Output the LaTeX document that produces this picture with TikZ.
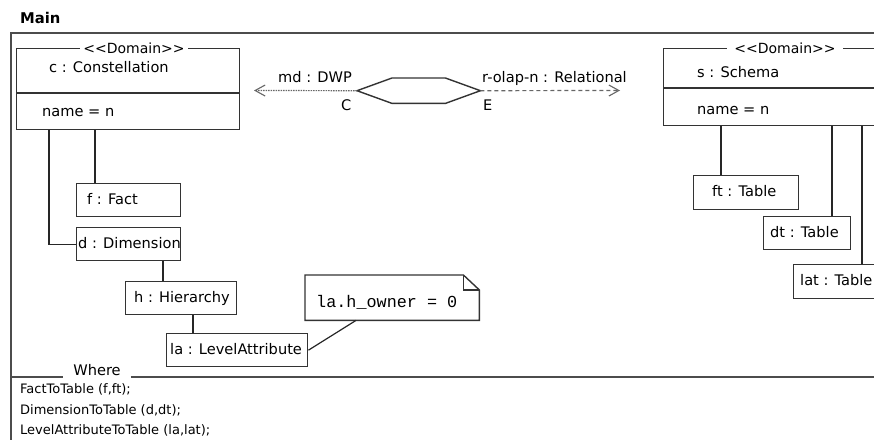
\documentclass[tikz,border=0pt]{standalone}
\usepackage{fontspec}
\setmainfont{DejaVu Sans}
\newfontfamily\codefont{Liberation Mono}
\usetikzlibrary{arrows.meta}

\begin{document}
\begin{tikzpicture}[x=1pt,y=-1pt,
  frameline/.style={draw=black!70, line width=1.5pt},
  boxline/.style={draw=black!80, line width=1.4pt},
  rect/.style={inner sep=0pt, anchor=north west},
  umlbox/.style={rect, boxline},
  conn/.style={draw=black!85, line width=1.2pt},
  lbl/.style={font=\fontsize{14.6}{17}\selectfont, anchor=west, inner sep=0pt,
              text height=1.5ex, text depth=.3ex, yshift=-1.5pt},
  stereo/.style={font=\fontsize{14}{16}\selectfont, fill=white, inner ysep=1pt},
  small/.style={font=\fontsize{13}{15}\selectfont, anchor=west, inner sep=0pt,
              text height=1.5ex, text depth=.3ex},
  tip/.style={-{Straight Barb[length=10pt,width=11pt,line width=1.1pt]}},
  flow/.style={draw=black!60, line width=1.2pt}
]
\useasboundingbox (0,0) rectangle (874,439);
\clip (0,0) rectangle (874,439);

% title and outer frame
\node[font=\bfseries\fontsize{14.8}{17}\selectfont, anchor=west, inner sep=0pt] (title) at (20,18) {Main};
\node[rect, frameline, minimum width=900pt, minimum height=460pt] (mainframe) at (10,32) {};

% left domain object: c : Constellation
\node[umlbox, minimum width=223pt, minimum height=81pt] (con) at (16,48) {};
\draw[boxline] ([yshift=-45pt]con.north west) -- ([yshift=-45pt]con.north east);
\node[stereo, inner xsep=3.5pt] (constereo) at ([xshift=118pt]con.north west) {<{}<Domain>{}>};
\node[lbl] (contitle) at (49,68) {c : Constellation};
\node[lbl] (conattr) at (42,112) {name = n};

% left children
\node[umlbox, minimum width=104pt, minimum height=33pt] (f) at (76,183) {};
\node[lbl] (ftext) at (87,199.5) {f : Fact};
\node[umlbox, minimum width=104pt, minimum height=33pt] (d) at (76,227) {};
\node[lbl] (dtext) at (78,243.5) {d : Dimension};
\node[umlbox, minimum width=111pt, minimum height=33pt] (h) at (125,281) {};
\node[lbl] (htext) at (134,297.5) {h : Hierarchy};
\node[umlbox, minimum width=141pt, minimum height=33pt] (la) at (166,333) {};
\node[lbl] (latext) at (170,349.5) {la : LevelAttribute};

\draw[conn] ([xshift=33pt]con.south west) |- (d.west);
\draw[conn] ([xshift=79pt]con.south west) -- ([xshift=79pt]con.south west |- f.north);
\draw[conn] ([xshift=87pt]d.south west) -- ([xshift=87pt]d.south west |- h.north);
\draw[conn] ([xshift=68pt]h.south west) -- ([xshift=68pt]h.south west |- la.north);

% constraint note
\node[rect, minimum width=174pt, minimum height=45pt] (note) at (305,275) {};
\draw[boxline, fill=white] (note.south west) -- (note.north west) -- ([xshift=-16pt]note.north east)
  -- ([yshift=-15pt]note.north east) -- (note.south east) -- cycle;
\draw[boxline, line width=1.1pt] ([xshift=-16pt]note.north east) |- ([yshift=-15pt]note.north east);
\node[anchor=west, inner sep=0pt, font=\codefont\fontsize{16.8}{18}\selectfont] (notetext) at (316,302) {la.h\_owner = 0};
\draw[conn] (la.east) -- ([xshift=51pt]note.south west);

% relation hexagon and its two domains
\node[rect, minimum width=123pt, minimum height=25pt] (rel) at (357,78) {};
\draw[boxline, line width=1.4pt] (rel.west) -- ([xshift=35pt]rel.north west) -- ([xshift=-35pt]rel.north east)
  -- (rel.east) -- ([xshift=-35pt]rel.south east) -- ([xshift=35pt]rel.south west) -- cycle;
\coordinate (lefttip) at (254,90.5);
\coordinate (righttip) at (620,90.5);
\draw[flow, tip, dash pattern=on 1.3pt off 1.2pt] (rel.west) -- (lefttip);
\draw[flow, tip, dash pattern=on 4pt off 3pt] (rel.east) -- (righttip);
\node[lbl] (mdlabel) at (278,78) {md : DWP};
\node[lbl] (clabel) at (341,106) {C};
\node[lbl] (rlabel) at (482,78) {r-olap-n : Relational};
\node[lbl] (elabel) at (483,106) {E};

% right domain object: s : Schema
\node[umlbox, minimum width=230pt, minimum height=77pt] (sch) at (663,48) {};
\draw[boxline] ([yshift=-40pt]sch.north west) -- ([yshift=-40pt]sch.north east);
\node[stereo, inner xsep=7pt] (schstereo) at ([xshift=122pt]sch.north west) {<{}<Domain>{}>};
\node[lbl] (schtitle) at (697,73) {s : Schema};
\node[lbl] (schattr) at (697,110) {name = n};

% right children
\node[umlbox, minimum width=105pt, minimum height=34pt] (ft) at (693,175) {};
\node[lbl] (fttext) at (712,192) {ft : Table};
\node[umlbox, minimum width=87pt, minimum height=33pt] (dt) at (763,216) {};
\node[lbl] (dttext) at (770,232.5) {dt : Table};
\node[umlbox, minimum width=100pt, minimum height=34pt] (lat) at (793,264) {};
\node[lbl] (lattext) at (800,281) {lat : Table};

\draw[conn] ([xshift=58pt]sch.south west) -- ([xshift=58pt]sch.south west |- ft.north);
\draw[conn] ([xshift=169pt]sch.south west) -- ([xshift=169pt]sch.south west |- dt.north);
\draw[conn] ([xshift=199pt]sch.south west) -- ([xshift=199pt]sch.south west |- lat.north);

% where section
\node[font=\fontsize{14.6}{17}\selectfont, inner xsep=10pt, inner ysep=0pt] (where) at (97,370) {Where};
\coordinate (wl) at (10,377);
\coordinate (wr) at (890,377);
\draw[frameline, line width=1.3pt] (wl) -- (wl -| where.west);
\draw[frameline, line width=1.3pt] (where.east |- wr) -- (wr);
\node[small] (rule1) at (20,390) {FactToTable (f,ft);};
\node[small] (rule2) at (20,411) {DimensionToTable (d,dt);};
\node[small] (rule3) at (20,431.5) {LevelAttributeToTable (la,lat);};
\end{tikzpicture}
\end{document}
